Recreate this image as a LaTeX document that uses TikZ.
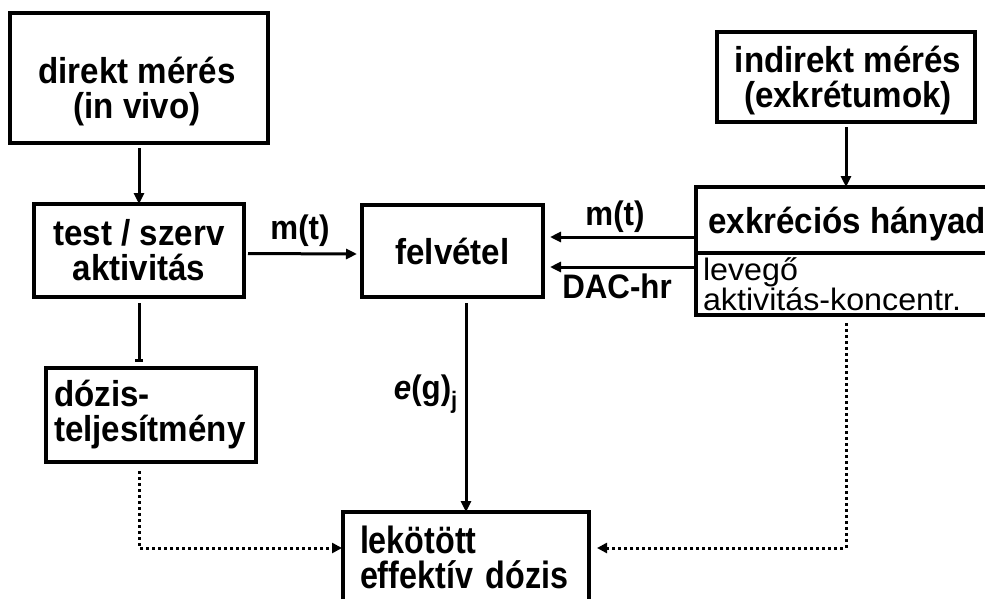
\documentclass[tikz,border=0pt]{standalone}
\usepackage{fontspec}
\setmainfont{Liberation Sans}
\newfontfamily\boldsans{Liberation Sans}[FakeStretch=0.92]
\newfontfamily\widesans{Liberation Sans}[FakeStretch=1.04]
\newfontfamily\narrowsans{Liberation Sans}[FakeStretch=0.85]
\usetikzlibrary{arrows.meta,calc}

\tikzset{
  box/.style={draw, line width=3.5pt, inner sep=0pt, outer sep=0pt, anchor=north west},
  bigtext/.style={font=\fontsize{36}{35}\selectfont\boldsans\bfseries, inner sep=0pt},
  smalltext/.style={font=\fontsize{31}{30}\selectfont\widesans},
  lbl/.style={font=\fontsize{34}{34}\selectfont\boldsans\bfseries, inner sep=0pt},
  arr/.style={line width=3pt, -{Triangle[length=11pt,width=10pt]}},
  barline/.style={line width=3pt, -{Bar[width=8pt]}},
  dotline/.style={line width=3pt, dash pattern=on 3pt off 3pt,
                  -{Triangle[length=10pt,width=10pt]}},
}

\begin{document}
\begin{tikzpicture}[x=1pt,y=-1pt]
\useasboundingbox (0,0) rectangle (985,598);
\clip (0,0) rectangle (985,598);

% boxes
\node[box, minimum width=258pt, minimum height=130pt] (direkt) at (10,13) {};
\node[bigtext, align=center] (direkttext) at ($(direkt.center)+(-2,14)$) {direkt mérés\\(in vivo)};
\node[box, bigtext, align=center, minimum width=210pt, minimum height=93pt]
  (test) at (34,204) {test / szerv\\aktivitás};
\node[box, bigtext, align=left, text width=194pt, minimum width=210pt, minimum height=94pt]
  (dozis) at (46,368) {dózis-\\teljesítmény};
\node[box, bigtext, align=center, minimum width=181pt, minimum height=92pt]
  (felvetel) at (362,205) {felvétel};
\node[box, minimum width=258pt, minimum height=90pt] (indirekt) at (717,32) {};
\node[bigtext, align=center] (indirekttext) at ($(indirekt.center)+(2,4)$) {indirekt mérés\\(exkrétumok)};
\node[box, minimum width=320pt, minimum height=66pt] (exkr) at (696,187) {};
\node[bigtext, anchor=west] (exkrtext) at ($(exkr.west)+(12,4)$) {exkréciós hányad};
\node[box, smalltext, align=left, text width=306pt, minimum width=320pt, minimum height=62pt]
  (levego) at (696,253) {levegő\\aktivitás-koncentr.};
\node[box, font=\fontsize{38}{35}\selectfont\narrowsans\bfseries, align=left,
      text width=212pt, minimum width=246pt, minimum height=90pt]
  (lekotott) at (343,512) {lekötött\\effektív~dózis};

% solid connectors
\draw[arr] ($(direkt.south)+(0,5)$) -- (test.north);
\draw[barline] ($(test.south)+(0,6)$) -- ($(test.south |- dozis.north)+(0,-6)$);
\draw[arr] ($(test.east)+(4,3)$) -- ($(felvetel.west)+(-5,3)$);
\draw[arr] ($(felvetel.south -| lekotott.north)+(0,6)$) -- (lekotott.north);
\draw[arr] ($(indirekt.south)+(0,5)$) -- (indirekt.south |- exkr.north);
\coordinate (exout) at ($(exkr.west)+(0,17)$);
\coordinate (levout) at ($(levego.west)+(0,-17)$);
\draw[arr] (exout) -- ($(exout -| felvetel.east)+(7,0)$);
\draw[arr] (levout) -- ($(levout -| felvetel.east)+(7,0)$);

% dotted connectors
\draw[dotline] ($(dozis.south -| test.south)+(0,9)$) |- ($(lekotott.west)+(-1,-9)$);
\draw[dotline] ($(levego.south -| indirekt.south)+(0,8)$) |- ($(lekotott.east)+(8,-9)$);

% connector labels
\node[lbl] (mtleft) at (300,231) {m(t)};
\node[lbl] (mtright) at (615,217) {m(t)};
\node[lbl] (dac) at (617,286) {DAC-hr};
\node[lbl, anchor=east] (egj) at (458,394) {{\itshape e}(g)\textsubscript{j}};
\end{tikzpicture}
\end{document}
